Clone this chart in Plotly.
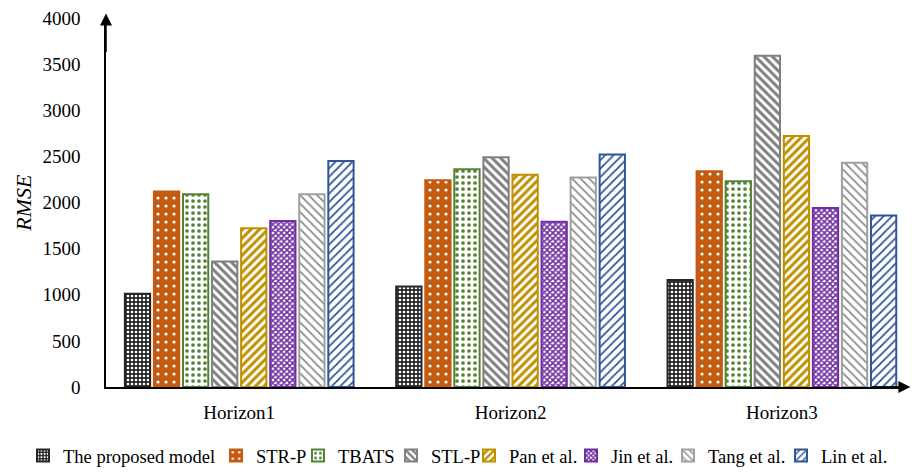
import plotly.graph_objects as go

# RMSE of each model at three forecasting horizons
horizons = ["Horizon1", "Horizon2", "Horizon3"]
models = ["The proposed model", "STR-P", "TBATS", "STL-P",
          "Pan et al.", "Jin et al.", "Tang et al.", "Lin et al."]

proposed = [1010, 1090, 1160]
str_p = [2120, 2240, 2340]
tbats = [2090, 2360, 2230]
stl_p = [1360, 2490, 3590]
pan = [1720, 2300, 2720]
jin = [1800, 1790, 1940]
tang = [2090, 2270, 2430]
lin = [2450, 2520, 1860]

series = [proposed, str_p, tbats, stl_p, pan, jin, tang, lin]

y_ticks = [0, 500, 1000, 1500, 2000, 2500, 3000, 3500, 4000]

# outline colour, pattern shape, pattern fg, pattern bg, size, solidity
styles = [
    ("#262626", ".", "#ffffff", "#262626", 4, 0.35),
    ("#C55A11", ".", "#ffffff", "#C55A11", 8, 0.12),
    ("#548235", ".", "#548235", "#ffffff", 6, 0.3),
    ("#7F7F7F", "\\", "#7F7F7F", "#ffffff", 6, 0.5),
    ("#BF9000", "/", "#BF9000", "#ffffff", 6, 0.5),
    ("#7030A0", "x", "#7030A0", "#ffffff", 4, 0.65),
    ("#A0A0A0", "\\", "#8C8C8C", "#ffffff", 6, 0.3),
    ("#2F5597", "/", "#2F5597", "#ffffff", 6, 0.3),
]

# left edge (px) of each legend entry's label along the bottom row
legend_text_x = [62, 255, 337, 430, 508, 610, 707, 820]

W, H = 912, 472
FONT = "Times New Roman, Liberation Serif, serif"
xpos = list(range(len(horizons)))

fig = go.Figure()
legend_layout = {}
for i, (name, vals, (col, shp, fg, bg, sz, sol)) in enumerate(
        zip(models, series, styles)):
    key = "legend" if i == 0 else f"legend{i + 1}"
    fig.add_trace(go.Bar(
        name=name, x=xpos, y=vals, legend=key,
        marker=dict(
            color=col,
            line=dict(color=col, width=2),
            pattern=dict(shape=shp, fgcolor=fg, bgcolor=bg, size=sz,
                         solidity=sol, fillmode="replace"),
        ),
    ))
    legend_layout[key] = dict(
        x=(legend_text_x[i] - 39) / W, xanchor="left", xref="container",
        y=(H - 456) / H, yanchor="middle", yref="container",
        bgcolor="rgba(0,0,0,0)",
        font=dict(family=FONT, size=18.5, color="#000000"),
        itemwidth=30,
    )

fig.update_layout(
    width=W, height=H,
    margin=dict(l=106, r=8, t=18, b=85, autoexpand=False),
    paper_bgcolor="white", plot_bgcolor="white",
    barmode="group", bargap=0.143, bargroupgap=0.13,
    font=dict(family=FONT, size=19, color="#000000"),
    showlegend=True,
    xaxis=dict(range=[-0.491, 2.45], tickvals=xpos, ticktext=horizons,
               showgrid=False, zeroline=False, showline=True,
               linecolor="#000000", linewidth=1.5, ticks="",
               ticklabelstandoff=7,
               tickfont=dict(family=FONT, size=19)),
    yaxis=dict(range=[0, 4000], tickvals=y_ticks, showgrid=False,
               zeroline=False, showline=True, linecolor="#000000",
               linewidth=1.5, ticks="", ticklabelstandoff=20,
               tickfont=dict(family=FONT, size=19)),
    **legend_layout,
)

# axis title
fig.add_annotation(text="<i>RMSE</i>", xref="paper", yref="paper",
                   x=-0.122, y=0.5, showarrow=False, textangle=-90,
                   font=dict(family=FONT, size=22))

# arrowheads at the ends of both axes
fig.add_annotation(text="", xref="paper", yref="paper", x=0, y=1.012,
                   ax=0, ay=40, showarrow=True, arrowhead=2, arrowsize=1.6,
                   arrowwidth=1.5, arrowcolor="#000000", standoff=0)
fig.add_annotation(text="", xref="paper", yref="paper", x=1.008, y=0,
                   ax=-40, ay=0, showarrow=True, arrowhead=2, arrowsize=1.6,
                   arrowwidth=1.5, arrowcolor="#000000", standoff=0)

fig.write_html("out.html")
